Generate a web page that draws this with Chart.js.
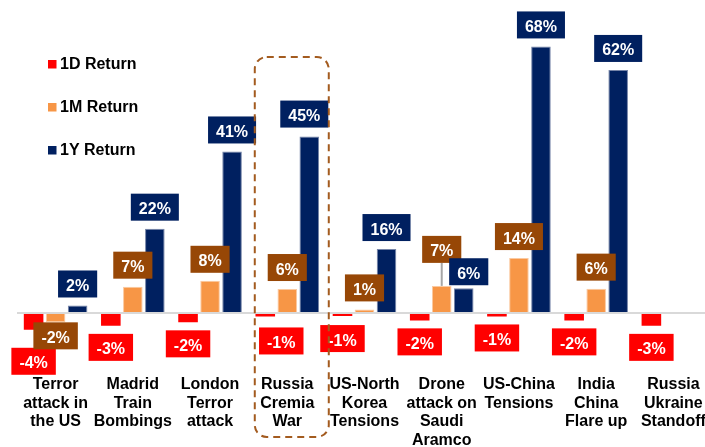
<!DOCTYPE html>
<html>
<head>
<meta charset="utf-8">
<script src="https://cdn.jsdelivr.net/npm/chart.js@4.4.1/dist/chart.umd.min.js"></script>
<style>
  html, body { margin: 0; padding: 0; background: #fff; overflow: hidden; }
  #wrap { position: relative; width: 712px; height: 447px; }
</style>
</head>
<body>
<div id="wrap"><canvas id="chart"></canvas></div>
<script>
// ---------------------------------------------------------------------------
// Data (in %)
// ---------------------------------------------------------------------------
const CATEGORIES = [
    ['Terror', 'attack in', 'the US'],
    ['Madrid', 'Train', 'Bombings'],
    ['London', 'Terror', 'attack'],
    ['Russia', 'Cremia', 'War'],
    ['US-North', 'Korea', 'Tensions'],
    ['Drone', 'attack on', 'Saudi', 'Aramco'],
    ['US-China', 'Tensions'],
    ['India', 'China', 'Flare up'],
    ['Russia', 'Ukraine', 'Standoff'],
];
const SERIES_NAMES = ['1D Return', '1M Return', '1Y Return'];
const RETURN_1D = [-4.3, -3.3, -2.4, -0.9, -0.8, -1.9, -0.9, -1.9, -3.3];
const RETURN_1M = [-2.4, 6.7, 8.2, 6.1, 0.9, 6.9, 14.0, 6.2, null];
const RETURN_1Y = [1.9, 21.5, 41.2, 45.0, 16.3, 6.3, 68.0, 62.0, null];

// ---------------------------------------------------------------------------
// Styles
// ---------------------------------------------------------------------------
const BAR_COLORS    = ['#FF0000', '#F79646', '#002060'];
const BAR_EDGES     = ['#FF0000', '#FBC9A0', '#7584A8'];
const LABEL_FILLS   = ['#FF0000', '#974706', '#002060'];
const FONT_FAMILY   = '"Liberation Sans", Arial, sans-serif';
const HIGHLIGHT_IDX = 3; // Russia Cremia War

// manual nudges of the value boxes, keyed "dataset:index"
const LABEL_NUDGE = {
    '0:0': { dx: 0,  dy: 10 },
    '1:0': { dx: 0,  dy: -8 },
    '0:3': { dx: 16, dy: 3 },
    '2:3': { dx: -5, dy: -1 },
    '0:4': { dx: 0,  dy: 1 },
    '1:5': { dx: 0,  dy: -15, leader: true },
    '2:5': { dx: 5,  dy: 5 },
};

function fmtPct(v) {
    return Math.round(v) + '%';
}

// ---------------------------------------------------------------------------
// Plugins
// ---------------------------------------------------------------------------
const valueBoxes = {
    id: 'valueBoxes',
    afterDatasetsDraw(chart) {
        const ctx = chart.ctx;
        ctx.save();
        ctx.font = 'bold 16px ' + FONT_FAMILY;
        chart.data.datasets.forEach(function (ds, di) {
            const meta = chart.getDatasetMeta(di);
            meta.data.forEach(function (bar, j) {
                const v = ds.data[j];
                if (v === null || v === undefined) return;
                const nudge = LABEL_NUDGE[di + ':' + j] || { dx: 0, dy: 0 };
                const text = fmtPct(v);
                const w = ctx.measureText(text).width + 16;
                const h = 27;
                const cx = bar.x + nudge.dx;
                let top = v >= 0 ? bar.y - 8 - h : bar.y + 8;
                top += nudge.dy;

                if (nudge.leader) {
                    ctx.strokeStyle = '#A6A6A6';
                    ctx.lineWidth = 2;
                    ctx.beginPath();
                    ctx.moveTo(cx, top + h);
                    ctx.lineTo(cx, bar.y);
                    ctx.stroke();
                }

                ctx.fillStyle = LABEL_FILLS[di];
                ctx.fillRect(cx - w / 2, top, w, h);
                ctx.fillStyle = '#FFFFFF';
                ctx.textAlign = 'center';
                ctx.textBaseline = 'alphabetic';
                ctx.fillText(text, cx, top + 20.5);
            });
        });
        ctx.restore();
    },
};

const sideLegend = {
    id: 'sideLegend',
    afterDraw(chart) {
        const ctx = chart.ctx;
        ctx.save();
        ctx.font = 'bold 16px ' + FONT_FAMILY;
        ctx.textAlign = 'left';
        ctx.textBaseline = 'alphabetic';
        chart.data.datasets.forEach(function (ds, i) {
            const y = 60 + i * 43;
            ctx.fillStyle = ds.backgroundColor;
            ctx.fillRect(48, y, 8.5, 8.5);
            ctx.fillStyle = '#000000';
            ctx.fillText(ds.label, 60, y + 9);
        });
        ctx.restore();
    },
};

const highlightBox = {
    id: 'highlightBox',
    afterDraw(chart) {
        const ctx = chart.ctx;
        const xc = chart.scales.x.getPixelForValue(HIGHLIGHT_IDX);
        const left = xc - 32.5, right = xc + 41.5;
        const top = 57, bottom = 437, r = 12;
        ctx.save();
        ctx.strokeStyle = '#A35B1F';
        ctx.lineWidth = 2;
        ctx.setLineDash([7, 5]);
        ctx.beginPath();
        ctx.roundRect(left, top, right - left, bottom - top, r);
        ctx.stroke();
        ctx.restore();
    },
};

// ---------------------------------------------------------------------------
// Chart
// ---------------------------------------------------------------------------
const seriesData = [RETURN_1D, RETURN_1M, RETURN_1Y];

new Chart(document.getElementById('chart'), {
    type: 'bar',
    data: {
        labels: CATEGORIES,
        datasets: seriesData.map(function (vals, i) {
            return {
                label: SERIES_NAMES[i],
                data: vals,
                backgroundColor: BAR_COLORS[i],
                borderColor: BAR_EDGES[i],
                borderWidth: i === 0 ? 0 : 1,
                categoryPercentage: 0.855,
                barPercentage: 0.89,
            };
        }),
    },
    options: {
        responsive: true,
        maintainAspectRatio: false,
        animation: false,
        layout: { padding: { left: 17, top: 19, right: 0, bottom: 0 } },
        plugins: {
            legend: { display: false },
            tooltip: { enabled: false },
        },
        scales: {
            x: {
                grid: { display: false },
                border: { display: false },
                ticks: {
                    color: '#000000',
                    padding: -5,
                    maxRotation: 0,
                    autoSkip: false,
                    font: { family: FONT_FAMILY, size: 16, weight: 'bold', lineHeight: 1.16 },
                },
                afterFit: function (s) { s.height = 74.5; },
            },
            y: {
                min: -15.2,
                max: 75,
                border: { display: false },
                ticks: { display: false, stepSize: 5 },
                grid: {
                    drawTicks: false,
                    lineWidth: 2,
                    color: function (c) { return c.tick && c.tick.value === 0 ? '#D9D9D9' : 'rgba(0,0,0,0)'; },
                },
                afterFit: function (s) { s.width = 0; },
            },
        },
    },
    plugins: [valueBoxes, sideLegend, highlightBox],
});
</script>
</body>
</html>
